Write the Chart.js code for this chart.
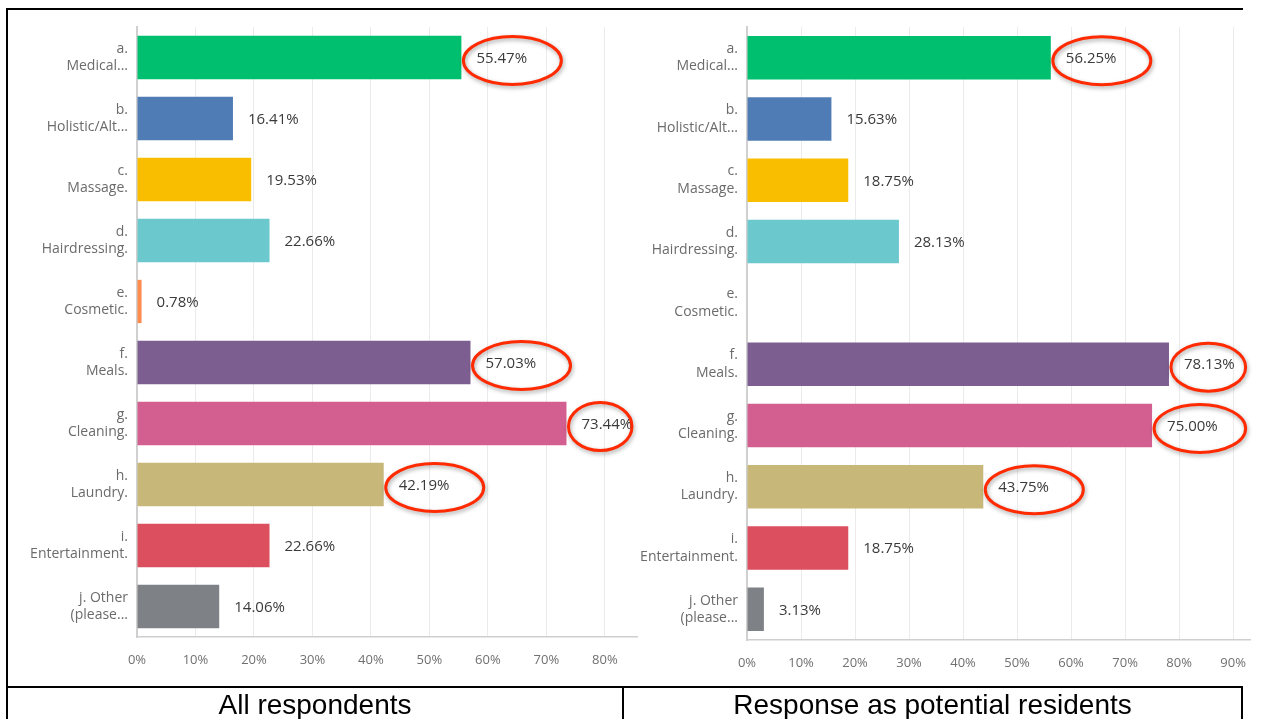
<!DOCTYPE html>
<html>
<head>
<meta charset="utf-8">
<script src="https://cdn.jsdelivr.net/npm/chart.js@4.4.1/dist/chart.umd.min.js"></script>
<style>
    body { margin: 0; background: #fff; width: 1261px; height: 719px; overflow: hidden; position: relative; font-family: "Liberation Sans", Arial, sans-serif; }
    .chart-box { position: absolute; top: 0; height: 686px; }
    .line { position: absolute; background: #000; z-index: 2; }
    .caption { position: absolute; top: 691px; height: 28px; line-height: 28px; font-size: 28px; color: #000; text-align: center; z-index: 2; }
</style>
</head>
<body>
<div class="chart-box" style="left:0; width:640px;"><canvas id="allChart"></canvas></div>
<div class="chart-box" style="left:610px; width:651px;"><canvas id="residentChart"></canvas></div>

<!-- table frame -->
<div class="line" style="left:6px; top:8px; width:1237px; height:2px;"></div>
<div class="line" style="left:6px; top:8px; width:2px; height:711px;"></div>
<div class="line" style="left:6px; top:686px; width:1237px; height:2px;"></div>
<div class="line" style="left:622px; top:686px; width:2px; height:33px;"></div>
<div class="line" style="left:1241px; top:686px; width:2px; height:33px;"></div>
<div class="caption" style="left:8px; width:614px;">All respondents</div>
<div class="caption" style="left:624px; width:617px;">Response as potential residents</div>

<script>
// 1. Data
const categories = [
    ['a.', 'Medical...'],
    ['b.', 'Holistic/Alt...'],
    ['c.', 'Massage.'],
    ['d.', 'Hairdressing.'],
    ['e.', 'Cosmetic.'],
    ['f.', 'Meals.'],
    ['g.', 'Cleaning.'],
    ['h.', 'Laundry.'],
    ['i.', 'Entertainment.'],
    ['j. Other', '(please...']
];
const allValues = [55.47, 16.41, 19.53, 22.66, 0.78, 57.03, 73.44, 42.19, 22.66, 14.06];
const residentValues = [56.25, 15.63, 18.75, 28.13, 0, 78.13, 75.00, 43.75, 18.75, 3.13];
const barColors = ['#00bf6f', '#507cb6', '#f9be00', '#6bc8cd', '#ff8b4f', '#7d5e90', '#d25f90', '#c7b879', '#db4f5f', '#7e8286'];
const allCircled = [0, 5, 6, 7];
const residentCircled = [0, 5, 6, 7];
const tickStep = 10;

const FONT = '"Open Sans", "Noto Sans", sans-serif';

// 2. Value labels + red circles
const labelPlugin = {
    id: 'valueLabels',
    afterDatasetsDraw(chart) {
        const ctx = chart.ctx;
        const meta = chart.getDatasetMeta(0);
        const values = chart.data.datasets[0].data;
        const circled = chart.options.plugins.valueLabels.circled;
        const area = chart.chartArea;

        ctx.save();
        ctx.font = '15px ' + FONT;
        ctx.fillStyle = '#3a3a3a';
        ctx.textAlign = 'left';
        ctx.textBaseline = 'middle';
        meta.data.forEach((bar, i) => {
            if (!values[i]) return;
            ctx.fillText(values[i].toFixed(2) + '%', bar.x + 15, bar.y + 1);
        });
        ctx.restore();

        ctx.save();
        ctx.strokeStyle = '#ff2a00';
        ctx.lineWidth = 3;
        ctx.shadowColor = 'rgba(0,0,0,0.35)';
        ctx.shadowBlur = 4;
        ctx.shadowOffsetX = 1;
        ctx.shadowOffsetY = 2;
        circled.forEach(i => {
            const bar = meta.data[i];
            const left = bar.x + 2;
            const right = Math.min(left + 98, area.right - 5);
            ctx.beginPath();
            ctx.ellipse((left + right) / 2, bar.y + 3, (right - left) / 2, 24, 0, 0, Math.PI * 2);
            ctx.stroke();
        });
        ctx.restore();
    }
};

// 3. Chart builder
function buildChart(canvasId, values, circled, maxX, axisHeight) {
    return new Chart(document.getElementById(canvasId), {
        type: 'bar',
        data: {
            labels: categories,
            datasets: [{
                data: values,
                backgroundColor: barColors,
                borderWidth: 0,
                barPercentage: 0.71,
                categoryPercentage: 1
            }]
        },
        options: {
            indexAxis: 'y',
            responsive: true,
            maintainAspectRatio: false,
            animation: false,
            layout: { padding: { top: 27, right: 3, left: 0, bottom: 0 } },
            plugins: {
                legend: { display: false },
                tooltip: { enabled: false },
                valueLabels: { circled: circled }
            },
            scales: {
                x: {
                    min: 0,
                    max: maxX,
                    grid: { color: '#ebebeb', lineWidth: 1, drawTicks: false },
                    border: { color: '#cfcfcf', width: 1.5 },
                    ticks: {
                        stepSize: tickStep,
                        includeBounds: false,
                        padding: 15,
                        color: '#707070',
                        font: { family: FONT, size: 13 },
                        callback: v => v + '%'
                    },
                    afterFit: s => { s.height = axisHeight; }
                },
                y: {
                    grid: { display: false, drawTicks: false },
                    border: { color: '#d0d0d0', width: 2 },
                    ticks: {
                        padding: 9,
                        color: '#6b6b6b',
                        font: { family: FONT, size: 14, lineHeight: 1.25 }
                    },
                    afterFit: s => { s.width = 137; }
                }
            }
        },
        plugins: [labelPlugin]
    });
}

buildChart('allChart', allValues, allCircled, 85.5, 49);
buildChart('residentChart', residentValues, residentCircled, 93.25, 46);
</script>
</body>
</html>
